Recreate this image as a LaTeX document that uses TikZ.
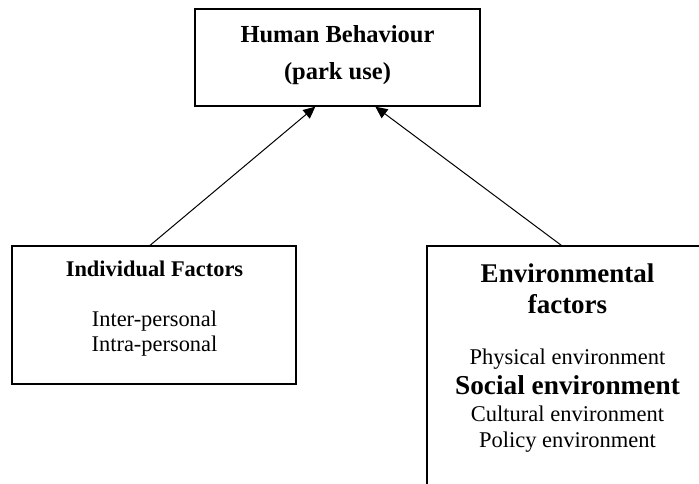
\documentclass[tikz,border=0pt]{standalone}
\usepackage{fontspec}
\setmainfont{Liberation Serif}
\usepackage{tikz}
\usetikzlibrary{positioning,calc,arrows.meta}

\tikzset{
  box/.style={draw, line width=1.3pt, inner sep=0pt},
  link/.style={line width=1pt, -{Triangle[length=12pt,width=11pt]}},
  txt/.style={anchor=base, inner sep=0pt}
}

\begin{document}
\begin{tikzpicture}[x=1pt, y=-1pt]
    \clip (0, 0) rectangle (699, 483);
    % Human behaviour
    \node [box, minimum width=285pt, minimum height=97pt] (human) at (337.5, 57.5) {};
    \node [txt, font=\fontsize{24.5}{28}\selectfont\bfseries] (humantitle) at (337.5, 42.7) {Human Behaviour};
    \node [txt, font=\fontsize{24.5}{28}\selectfont\bfseries] (humanpark) at (337.5, 79.5) {(park use)};

    % Individual factors
    \node [box, minimum width=284pt, minimum height=138pt] (indiv) at (154, 315) {};
    \node [txt, font=\fontsize{22.4}{26}\selectfont\bfseries] (indivtitle) at (154.5, 276) {Individual Factors};
    \node [txt, font=\fontsize{22.4}{26}\selectfont] (inter) at (154.5, 326.7) {Inter-personal};
    \node [txt, font=\fontsize{22.4}{26}\selectfont] (intra) at (154.5, 351.7) {Intra-personal};

    % Environmental factors (runs off the page)
    \node [box, minimum width=283pt, minimum height=260pt] (env) at (568.5, 376) {};
    \node [txt, font=\fontsize{27}{30}\selectfont\bfseries] (envtitle) at (567.5, 282) {Environmental};
    \node [txt, font=\fontsize{27}{30}\selectfont\bfseries] (envfactors) at (567.5, 313) {factors};
    \node [txt, font=\fontsize{22.5}{26}\selectfont] (physical) at (567.5, 364) {Physical environment};
    \node [txt, font=\fontsize{27.3}{30}\selectfont\bfseries] (social) at (567.5, 394) {Social environment};
    \node [txt, font=\fontsize{22.5}{26}\selectfont] (cultural) at (567.5, 421) {Cultural environment};
    \node [txt, font=\fontsize{22.5}{26}\selectfont] (policy) at (567.5, 447.5) {Policy environment};

    % Arrows
    \draw [link] ([xshift=138.7pt]indiv.north west) -- ([xshift=121pt]human.south west);
    \draw [link] ([xshift=135pt]env.north west) -- ([xshift=181pt]human.south west);
\end{tikzpicture}
\end{document}
